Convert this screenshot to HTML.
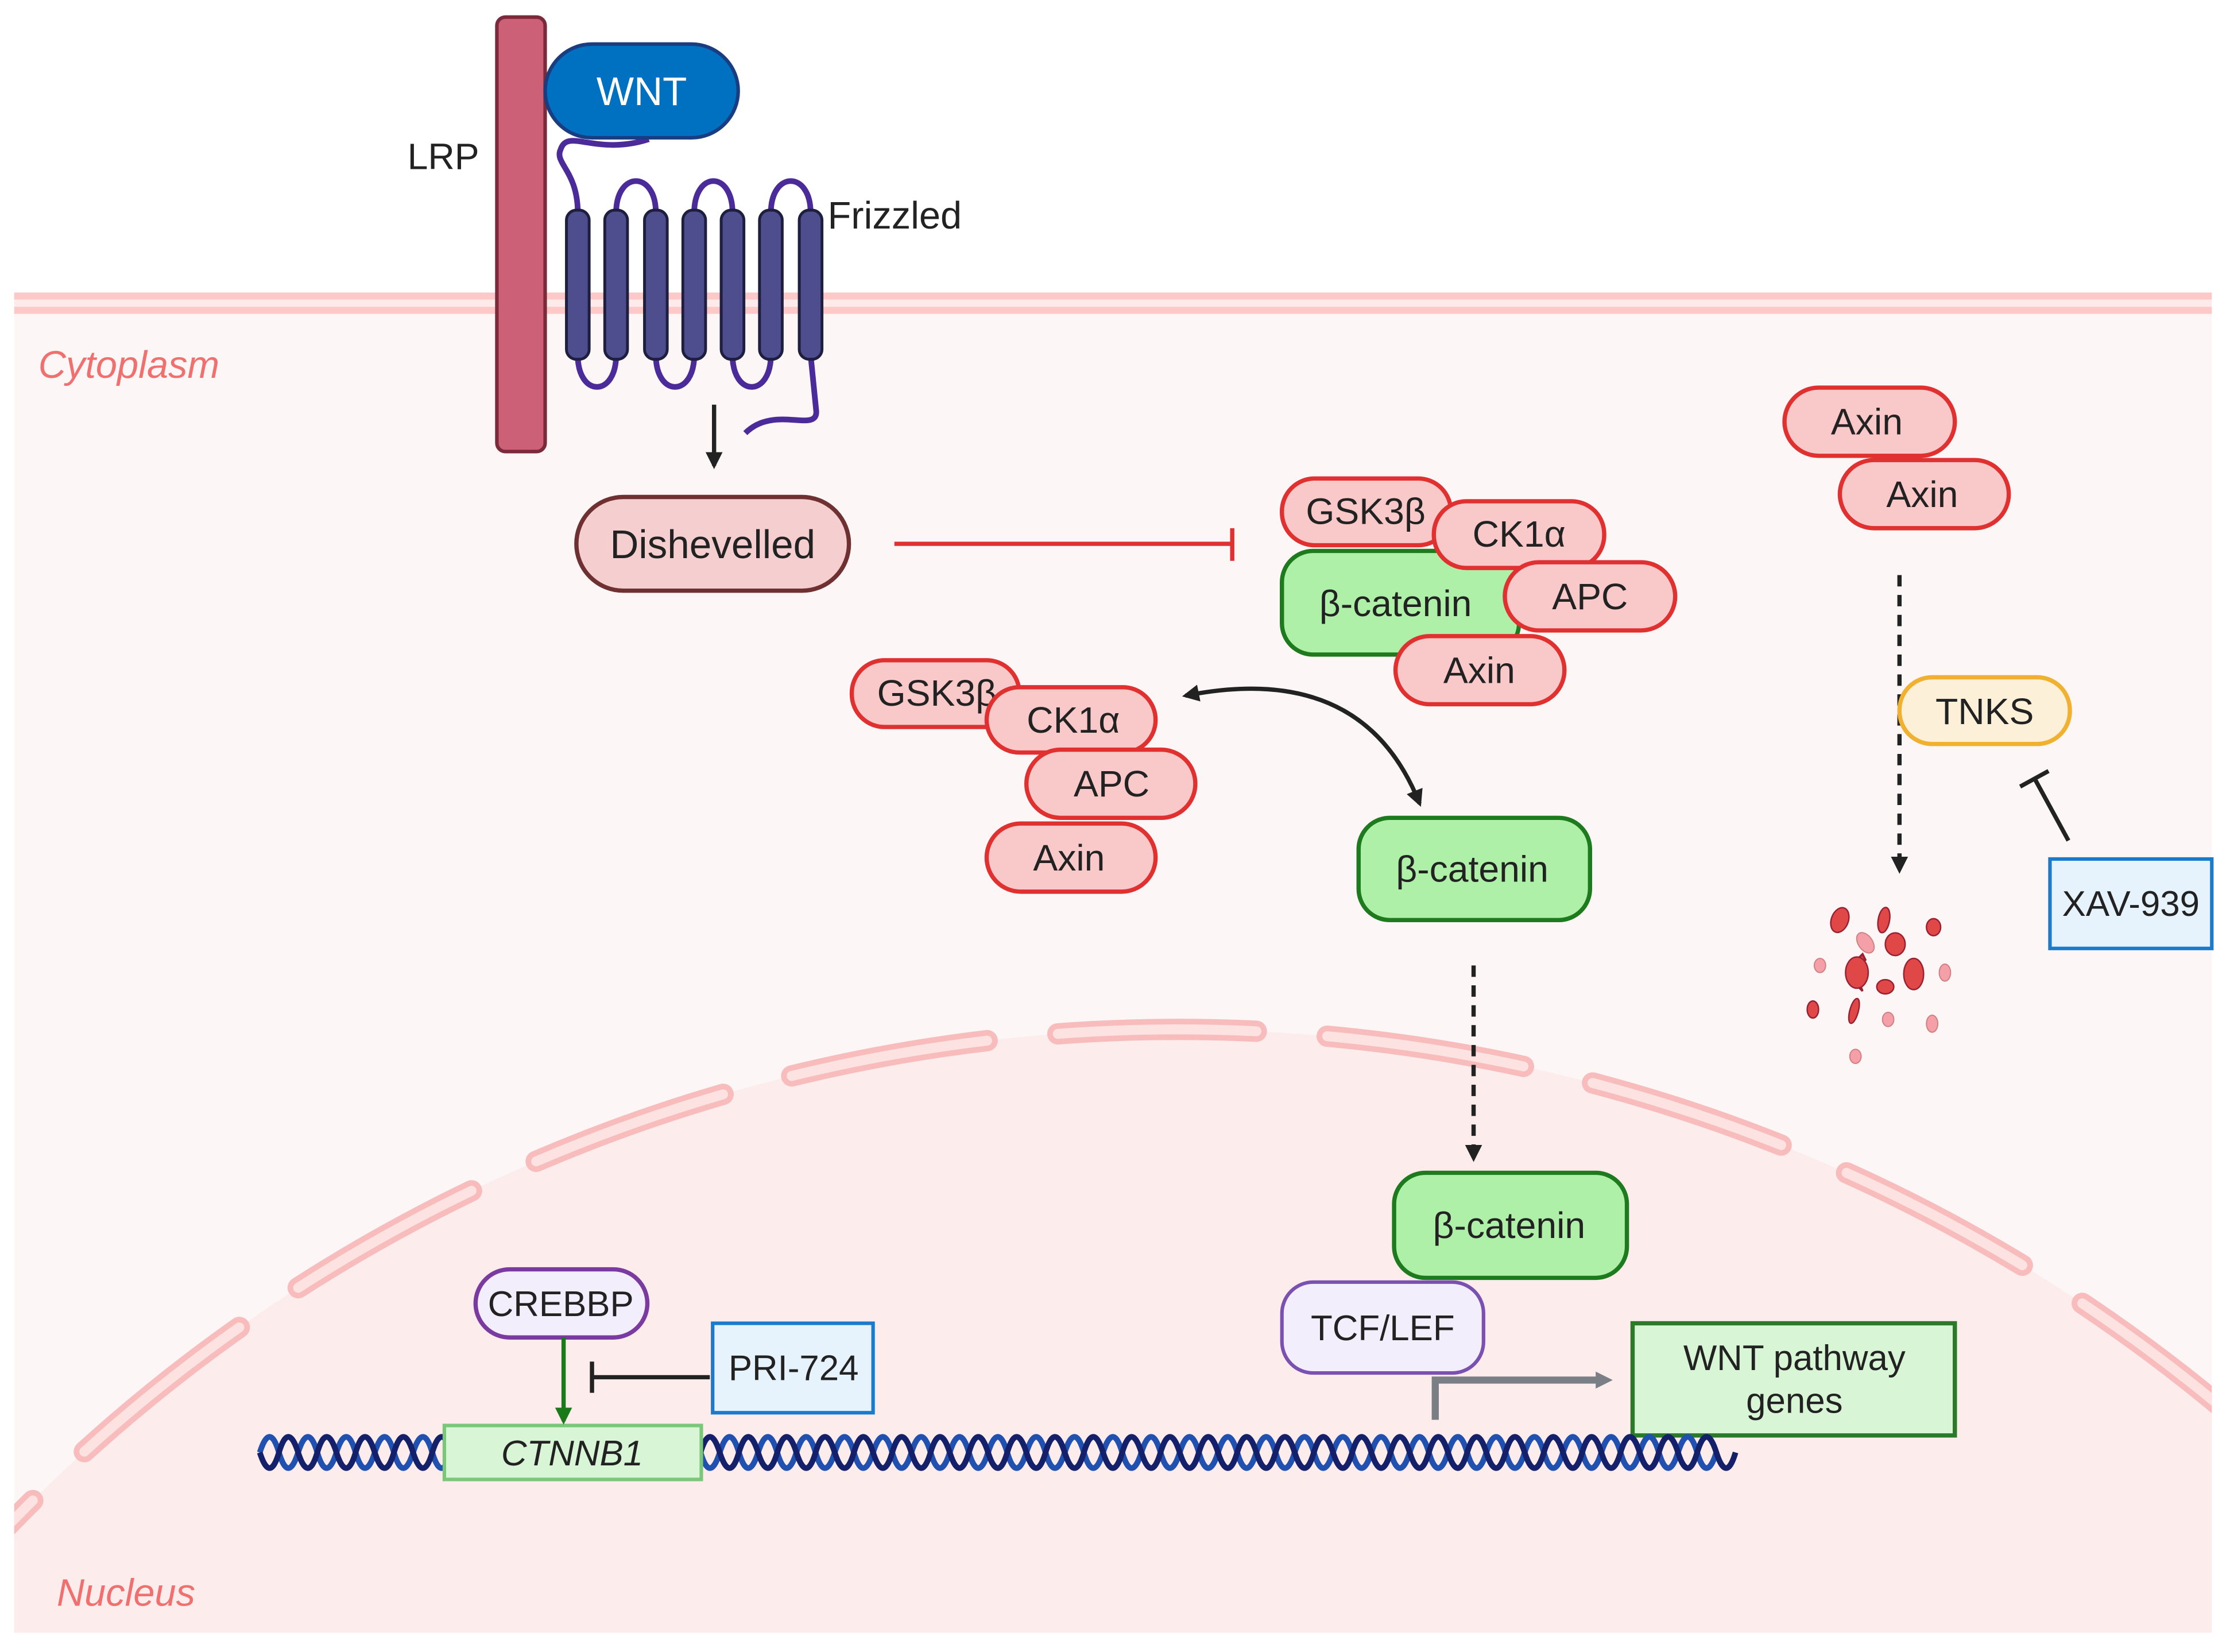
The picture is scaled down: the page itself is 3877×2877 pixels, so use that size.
<!DOCTYPE html>
<html><head><meta charset="utf-8"><style>html,body{margin:0;padding:0;background:#fff;overflow:hidden;width:3877px;height:2877px}svg{display:block}text{font-family:"Liberation Sans",sans-serif}</style></head>
<body>
<svg width="3877" height="2877" viewBox="0 0 1568 1163.5" xmlns="http://www.w3.org/2000/svg">
<defs>
<clipPath id="cyto"><rect x="10" y="220" width="1548" height="930"/></clipPath>
<marker id="ah" viewBox="0 0 10 10" refX="8" refY="5" markerWidth="4" markerHeight="4" orient="auto-start-reverse"><path d="M0,0L10,5L0,10z" fill="#222"/></marker>
<marker id="ahg" viewBox="0 0 10 10" refX="8" refY="5" markerWidth="4" markerHeight="4" orient="auto"><path d="M0,0L10,5L0,10z" fill="#1a7a1a"/></marker>
<marker id="ahgr" viewBox="0 0 10 10" refX="5" refY="5" markerWidth="2.4" markerHeight="2.4" orient="auto"><path d="M0,0L10,5L0,10z" fill="#7a7f85"/></marker>
</defs>
<rect width="1568" height="1163.5" fill="#fff"/>
<rect x="10" y="220" width="1548" height="930" fill="#fdf6f6"/>
<g clip-path="url(#cyto)">
<circle cx="830" cy="1872" r="1147" fill="#fcecec"/>
<circle cx="830" cy="1872" r="1147" fill="none" stroke="#f8bcbc" stroke-width="15" stroke-dasharray="140 50" stroke-linecap="round"/>
<circle cx="830" cy="1872" r="1147" fill="none" stroke="#fde2e2" stroke-width="7" stroke-dasharray="140 50" stroke-linecap="round"/>
</g>
<rect x="10" y="206" width="1548" height="5" fill="#fcc8c8"/>
<rect x="10" y="216" width="1548" height="5" fill="#fcc8c8"/>
<rect x="10" y="211" width="1548" height="5" fill="#fdeaea"/>
<text x="27" y="266" font-size="27" font-style="italic" fill="#f07070">Cytoplasm</text>
<text x="40" y="1131" font-size="27" font-style="italic" fill="#f07070">Nucleus</text>

<rect x="350" y="12" width="34" height="306" rx="6" fill="#cc6077" stroke="#7a2a3a" stroke-width="2.5"/>
<text x="287" y="119" font-size="26" fill="#222">LRP</text>
<g fill="none" stroke="#4b2a9a" stroke-width="4">
<path d="M407,150 C407,120 390,115 395,105 C400,90 420,110 457,98"/>
<path d="M434,150 C434,120 462,120 462,150"/>
<path d="M489,150 C489,120 516,120 516,150"/>
<path d="M543,150 C543,120 571,120 571,150"/>
<path d="M407,250 C407,280 434,280 434,250"/>
<path d="M462,250 C462,280 489,280 489,250"/>
<path d="M516,250 C516,280 543,280 543,250"/>
<path d="M571,250 L575,290 C575,305 545,285 525,305"/>
</g>
<g fill="#4e4e8e" stroke="#1e1e3e" stroke-width="2">
<rect x="399" y="148" width="16" height="105" rx="7"/>
<rect x="426" y="148" width="16" height="105" rx="7"/>
<rect x="454" y="148" width="16" height="105" rx="7"/>
<rect x="481" y="148" width="16" height="105" rx="7"/>
<rect x="508" y="148" width="16" height="105" rx="7"/>
<rect x="535" y="148" width="16" height="105" rx="7"/>
<rect x="563" y="148" width="16" height="105" rx="7"/>
</g>
<rect x="384" y="31" width="136" height="66" rx="33" fill="#0070c0" stroke="#1a3c80" stroke-width="2.5"/>
<text x="452" y="74" font-size="28" fill="#fff" text-anchor="middle">WNT</text>
<text x="583" y="161" font-size="27" fill="#222">Frizzled</text>
<line x1="503" y1="285" x2="503" y2="328" stroke="#222" stroke-width="3" marker-end="url(#ah)"/>

<rect x="406" y="350" width="192" height="66" rx="33" fill="#f5cfcf" stroke="#6e3030" stroke-width="3"/>
<text x="502" y="393" font-size="28" fill="#222" text-anchor="middle">Dishevelled</text>
<line x1="630" y1="383" x2="868" y2="383" stroke="#e03030" stroke-width="3"/>
<line x1="868" y1="372" x2="868" y2="395" stroke="#e03030" stroke-width="3"/>

<g font-size="26" fill="#222" text-anchor="middle">
<rect x="903" y="337" width="119" height="47" rx="23" fill="#f9c9c9" stroke="#e03030" stroke-width="3"/>
<text x="962" y="369">GSK3β</text>
<rect x="903" y="388" width="167" height="73" rx="22" fill="#aef0a8" stroke="#1d7a1d" stroke-width="3"/>
<text x="983" y="434">β-catenin</text>
<rect x="1010" y="353" width="120" height="47" rx="23" fill="#f9c9c9" stroke="#e03030" stroke-width="3"/>
<text x="1070" y="385">CK1α</text>
<rect x="1060" y="396" width="120" height="48" rx="24" fill="#f9c9c9" stroke="#e03030" stroke-width="3"/>
<text x="1120" y="429">APC</text>
<rect x="983" y="448" width="119" height="48" rx="24" fill="#f9c9c9" stroke="#e03030" stroke-width="3"/>
<text x="1042" y="481">Axin</text>
<rect x="600" y="465" width="118" height="47" rx="23" fill="#f9c9c9" stroke="#e03030" stroke-width="3"/>
<text x="660" y="497">GSK3β</text>
<rect x="695" y="484" width="119" height="46" rx="23" fill="#f9c9c9" stroke="#e03030" stroke-width="3"/>
<text x="756" y="516">CK1α</text>
<rect x="723" y="528" width="119" height="48" rx="24" fill="#f9c9c9" stroke="#e03030" stroke-width="3"/>
<text x="783" y="561">APC</text>
<rect x="695" y="580" width="119" height="48" rx="24" fill="#f9c9c9" stroke="#e03030" stroke-width="3"/>
<text x="753" y="613">Axin</text>
<rect x="957" y="576" width="163" height="72" rx="22" fill="#aef0a8" stroke="#1d7a1d" stroke-width="3"/>
<text x="1037" y="621">β-catenin</text>
<rect x="982" y="826" width="164" height="74" rx="22" fill="#aef0a8" stroke="#1d7a1d" stroke-width="3"/>
<text x="1063" y="872">β-catenin</text>
<rect x="1257" y="273" width="120" height="48" rx="24" fill="#f9c9c9" stroke="#e03030" stroke-width="3"/>
<text x="1315" y="306">Axin</text>
<rect x="1296" y="324" width="119" height="48" rx="24" fill="#f9c9c9" stroke="#e03030" stroke-width="3"/>
<text x="1354" y="357">Axin</text>
</g>
<path d="M835,490 Q960,465 1000,566" fill="none" stroke="#222" stroke-width="3" marker-start="url(#ah)" marker-end="url(#ah)"/>
<line x1="1038" y1="680" x2="1038" y2="816" stroke="#222" stroke-width="3" stroke-dasharray="8 6" marker-end="url(#ah)"/>
<line x1="1338" y1="405" x2="1338" y2="613" stroke="#222" stroke-width="3" stroke-dasharray="8 6" marker-end="url(#ah)"/>
<rect x="1338" y="477" width="120" height="47" rx="23" fill="#fdf0d8" stroke="#f0b030" stroke-width="3"/>
<text x="1398" y="510" font-size="26" fill="#222" text-anchor="middle">TNKS</text>
<rect x="1444" y="605" width="114" height="63" fill="#e6f2fc" stroke="#1a7acc" stroke-width="2.5"/>
<text x="1501" y="645" font-size="25" fill="#222" text-anchor="middle">XAV-939</text>
<line x1="1457" y1="592" x2="1433" y2="548" stroke="#222" stroke-width="3"/>
<line x1="1423" y1="554" x2="1443" y2="543" stroke="#222" stroke-width="3"/>
<g fill="#e04848" stroke="#9a2030" stroke-width="1">
<ellipse cx="1296" cy="648" rx="6" ry="9" transform="rotate(20 1296 648)"/>
<ellipse cx="1327" cy="648" rx="4" ry="9" transform="rotate(10 1327 648)"/>
<ellipse cx="1335" cy="665" rx="7" ry="8"/>
<path d="M1312,672 Q1298,685 1312,698 Q1306,685 1314,676z" stroke-width="1.5"/>
<ellipse cx="1308" cy="685" rx="8" ry="11"/>
<ellipse cx="1348" cy="686" rx="7" ry="11"/>
<ellipse cx="1328" cy="695" rx="6" ry="5"/>
<ellipse cx="1277" cy="711" rx="4" ry="6"/>
<ellipse cx="1306" cy="712" rx="3" ry="9" transform="rotate(15 1306 712)"/>
<ellipse cx="1362" cy="653" rx="5" ry="6"/>
</g>
<g fill="#f5a0a8" stroke="#d08080" stroke-width="0.8">
<ellipse cx="1314" cy="664" rx="5" ry="8" transform="rotate(-35 1314 664)"/>
<ellipse cx="1282" cy="680" rx="4" ry="5"/>
<ellipse cx="1370" cy="685" rx="4" ry="6"/>
<ellipse cx="1330" cy="718" rx="4" ry="5"/>
<ellipse cx="1361" cy="721" rx="4" ry="6"/>
<ellipse cx="1307" cy="744" rx="4" ry="5"/>
</g>

<path d="M1011,1000 L1011,972 L1130,972" fill="none" stroke="#7a7f85" stroke-width="5" marker-end="url(#ahgr)"/>
<rect x="1150" y="932" width="227" height="79" fill="#d8f5d5" stroke="#2a7a2a" stroke-width="3"/>
<text x="1264" y="965" font-size="25" fill="#222" text-anchor="middle">WNT pathway</text>
<text x="1264" y="995" font-size="25" fill="#222" text-anchor="middle">genes</text>
<rect x="903" y="903" width="142" height="64" rx="22" fill="#f3eefc" stroke="#7a50b0" stroke-width="2.5"/>
<text x="974" y="944" font-size="25" fill="#222" text-anchor="middle">TCF/LEF</text>
<g fill="none" stroke-width="4">
<path stroke="#2050b0" d="M183,1023 q7,-22 13.5,0 t13.5,0 t13.5,0 t13.5,0 t13.5,0 t13.5,0 t13.5,0 t13.5,0 t13.5,0 t13.5,0 t13.5,0 t13.5,0 t13.5,0 t13.5,0 t13.5,0 t13.5,0 t13.5,0 t13.5,0 t13.5,0 t13.5,0 t13.5,0 t13.5,0 t13.5,0 t13.5,0 t13.5,0 t13.5,0 t13.5,0 t13.5,0 t13.5,0 t13.5,0 t13.5,0 t13.5,0 t13.5,0 t13.5,0 t13.5,0 t13.5,0 t13.5,0 t13.5,0 t13.5,0 t13.5,0 t13.5,0 t13.5,0 t13.5,0 t13.5,0 t13.5,0 t13.5,0 t13.5,0 t13.5,0 t13.5,0 t13.5,0 t13.5,0 t13.5,0 t13.5,0 t13.5,0 t13.5,0 t13.5,0 t13.5,0 t13.5,0 t13.5,0 t13.5,0 t13.5,0 t13.5,0 t13.5,0 t13.5,0 t13.5,0 t13.5,0 t13.5,0 t13.5,0 t13.5,0 t13.5,0 t13.5,0 t13.5,0 t13.5,0 t13.5,0 t13.5,0 t13.5,0"/>
<path stroke="#14206a" d="M183,1023 q7,22 13.5,0 t13.5,0 t13.5,0 t13.5,0 t13.5,0 t13.5,0 t13.5,0 t13.5,0 t13.5,0 t13.5,0 t13.5,0 t13.5,0 t13.5,0 t13.5,0 t13.5,0 t13.5,0 t13.5,0 t13.5,0 t13.5,0 t13.5,0 t13.5,0 t13.5,0 t13.5,0 t13.5,0 t13.5,0 t13.5,0 t13.5,0 t13.5,0 t13.5,0 t13.5,0 t13.5,0 t13.5,0 t13.5,0 t13.5,0 t13.5,0 t13.5,0 t13.5,0 t13.5,0 t13.5,0 t13.5,0 t13.5,0 t13.5,0 t13.5,0 t13.5,0 t13.5,0 t13.5,0 t13.5,0 t13.5,0 t13.5,0 t13.5,0 t13.5,0 t13.5,0 t13.5,0 t13.5,0 t13.5,0 t13.5,0 t13.5,0 t13.5,0 t13.5,0 t13.5,0 t13.5,0 t13.5,0 t13.5,0 t13.5,0 t13.5,0 t13.5,0 t13.5,0 t13.5,0 t13.5,0 t13.5,0 t13.5,0 t13.5,0 t13.5,0 t13.5,0 t13.5,0 t13.5,0 t13.5,0"/>
</g>
<rect x="313" y="1004" width="181" height="38" fill="#d8f5d5" stroke="#7ac77a" stroke-width="2.5"/>
<text x="403" y="1032" font-size="25" font-style="italic" fill="#222" text-anchor="middle">CTNNB1</text>
<rect x="335" y="894" width="121" height="48" rx="24" fill="#f3eefc" stroke="#7a3aa0" stroke-width="3"/>
<text x="395" y="927" font-size="25" fill="#222" text-anchor="middle">CREBBP</text>
<line x1="397" y1="942" x2="397" y2="1001" stroke="#1a7a1a" stroke-width="3" marker-end="url(#ahg)"/>
<rect x="502" y="932" width="113" height="63" fill="#e6f2fc" stroke="#1a7acc" stroke-width="2.5"/>
<text x="559" y="972" font-size="25" fill="#222" text-anchor="middle">PRI-724</text>
<line x1="500" y1="970" x2="417" y2="970" stroke="#222" stroke-width="3"/>
<line x1="417" y1="959" x2="417" y2="981" stroke="#222" stroke-width="3"/>
</svg>
</body></html>
